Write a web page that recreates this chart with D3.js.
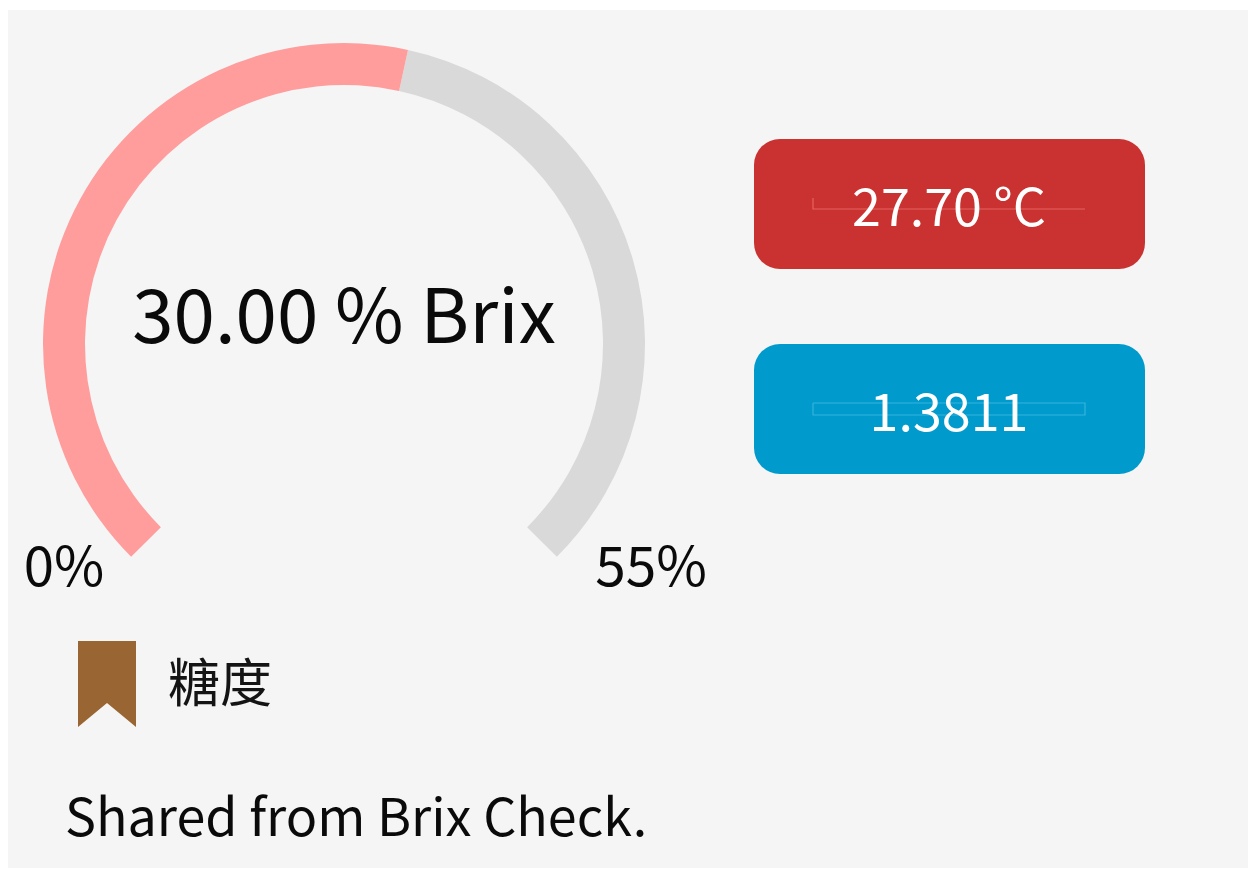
<!DOCTYPE html>
<html><head><meta charset="utf-8"><script src="https://cdn.jsdelivr.net/npm/d3@7"></script>
<style>html,body{margin:0;padding:0;background:#fff}svg{display:block}text{font-family:"Noto Sans CJK SC","Noto Sans",sans-serif}</style></head>
<body><div id="c"></div><script>
const brixValue=[30];
const brixRange=[0,55];
const mainLabel=["30.00 % Brix"];
const rangeLabels=["0%","55%"];
const badgeLabels=["27.70 °C","1.3811"];
const badgeColors=["#c93230","#009acd"];
const badgeLineColors=["#e8625f","#35b4de"];
const legendLabel=["糖度"];
const footer=["Shared from Brix Check."];
const svg=d3.select("#c").append("svg").attr("width",1256).attr("height",870);
svg.append("rect").attr("x",8).attr("y",10).attr("width",1240).attr("height",858).attr("fill","#f5f5f5");
const cx=344,cy=344;
const ang=d3.scaleLinear().domain(brixRange).range([-0.75*Math.PI,0.75*Math.PI]);
const arc=d3.arc().innerRadius(259).outerRadius(301);
const g=svg.append("g").attr("transform",`translate(${cx},${cy})`);
g.append("path").attr("d",arc({startAngle:ang(brixValue[0]),endAngle:ang(brixRange[1])})).attr("fill","#d9d9d9");
g.append("path").attr("d",arc({startAngle:ang(brixRange[0]),endAngle:ang(brixValue[0])})).attr("fill","#ff9c9c");
svg.append("text").text(mainLabel[0]).attr("x",344).attr("y",343).attr("text-anchor","middle").attr("font-size",74.5).attr("fill","#0a0a0a");
svg.append("text").text(rangeLabels[0]).attr("x",64).attr("y",586).attr("text-anchor","middle").attr("font-size",54.5).attr("fill","#0a0a0a");
svg.append("text").text(rangeLabels[1]).attr("x",651).attr("y",586).attr("text-anchor","middle").attr("font-size",55).attr("fill","#0a0a0a");
const ys=[139,344];
const lineTops=[198,403];
const lineBottoms=[209,415];
const topOpacity=[0.25,0.5];
const badge=svg.selectAll("g.b").data(badgeLabels).join("g").attr("class","b");
badge.append("rect").attr("x",754).attr("y",(d,i)=>ys[i]).attr("width",391).attr("height",130).attr("rx",26).attr("fill",(d,i)=>badgeColors[i]);
badge.append("path").attr("fill","none").attr("stroke",(d,i)=>badgeLineColors[i]).attr("stroke-width",1.2)
  .attr("d",(d,i)=>`M813,${lineTops[i]}V${lineBottoms[i]}H1085`+(i===1?`V${lineTops[i]}H813`:""));
badge.append("text").text(d=>d).attr("x",949).attr("y",(d,i)=>ys[i]+87).attr("text-anchor","middle").attr("font-size",52).attr("fill","#fff");
svg.append("path").attr("d",d3.line()([[78,641],[136,641],[136,727],[107,703],[78,727]])+"Z").attr("fill","#996633");
svg.append("text").text(legendLabel[0]).attr("x",168).attr("y",702).attr("font-size",52).attr("fill","#141414");
svg.append("text").text(footer[0]).attr("x",65).attr("y",836).attr("font-size",52).attr("fill","#0a0a0a");
</script></body></html>
